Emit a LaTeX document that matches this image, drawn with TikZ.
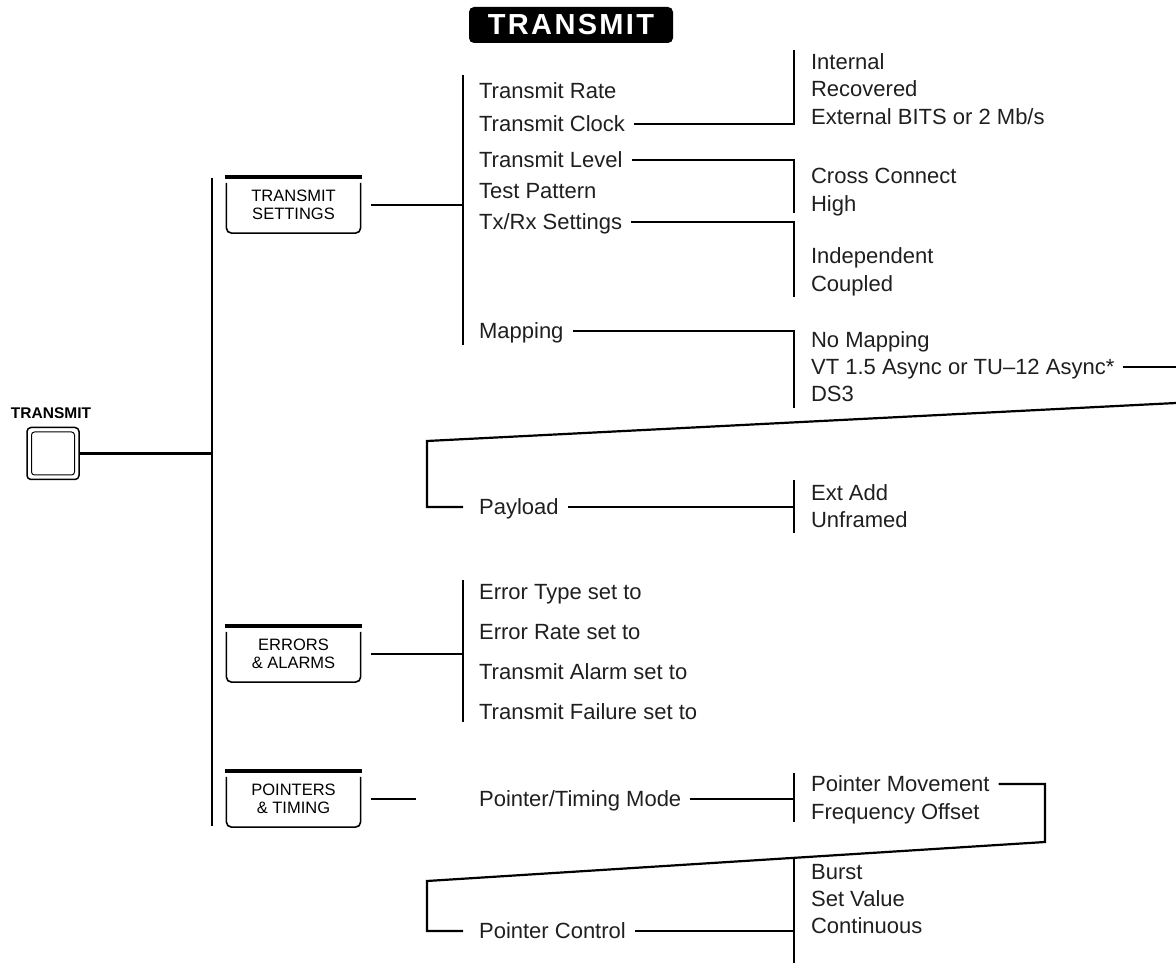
\documentclass[tikz,border=0pt]{standalone}
\usepackage{fontspec}
\setmainfont{Liberation Sans}
\newcommand\itemfont{\fontsize{22}{26}\selectfont}
\newcommand\boxfont{\fontsize{16.5}{18}\selectfont}
\newcommand\menubox[4]{%
  \node[boxlabel] (#1) at (#2,#3) {#4};
  \draw[line width=3.5pt] (#1.north west) -- (#1.north east);
  \draw[line width=1.6pt, rounded corners=5pt]
    ([xshift=1.5pt,yshift=-6pt]#1.north west) -- ([xshift=1.5pt]#1.south west)
    -- ([xshift=-1.5pt]#1.south east) -- ([xshift=-1.5pt,yshift=-6pt]#1.north east);
}
\begin{document}
\begin{tikzpicture}[x=1pt,y=-1pt, line width=2.2pt,
  item/.style={anchor=west, inner sep=0pt, font=\itemfont, text=black!88, text height=15.8pt, text depth=0pt},
  boxlabel/.style={align=center, font=\boxfont, inner sep=0pt, minimum width=135pt, minimum height=54pt},
  conn/.style={line width=2.2pt},
  bar/.style={line width=2.2pt}
]
\useasboundingbox (0,0) rectangle (1176,965);

% title
\node[fill=black, text=white, rounded corners=5pt, minimum width=204pt, minimum height=36pt,
      inner sep=0pt, font=\fontsize{29}{30}\selectfont\bfseries] (title) at (571,25)
      {\addfontfeatures{LetterSpace=8}TRANSMIT};

% button
\node[font=\fontsize{15.5}{16}\selectfont\bfseries, inner sep=0pt] (btnlabel) at (51,413) {TRANSMIT};
\node[draw, line width=1.5pt, rounded corners=4pt, minimum size=52pt, inner sep=0pt] (btn) at (53,453.5) {};
\node[draw, line width=1pt, rounded corners=3pt, minimum size=43pt, inner sep=0pt] (btninner) at (btn.center) {};

% main trunk
\coordinate (t0top) at (212,178);
\coordinate (t0bot) at (212,826);
\draw[bar] (t0top) -- (t0bot);
\draw[conn] (btn.east) -- (btn.east -| t0top);

% menu boxes
\menubox{ts}{293.5}{205}{TRANSMIT\\SETTINGS}
\menubox{ea}{293.5}{654}{ERRORS\\\& ALARMS}
\menubox{pt}{293.5}{799}{POINTERS\\\& TIMING}

% ---------- transmit settings ----------
\coordinate (t1top) at (463,75);
\coordinate (t1bot) at (463,345);
\draw[bar] (t1top) -- (t1bot);
\draw[conn] ([xshift=9pt]ts.east) -- (ts.east -| t1top);

\node[item] (rate) at (478,91) {Transmit Rate};
\node[item] (clock) at (478,124) {Transmit Clock};
\node[item] (level) at (478,160) {Transmit Level};
\node[item] (test) at (478,191) {Test Pattern};
\node[item] (txrx) at (478,222) {Tx/Rx Settings};
\node[item] (mapping) at (478,331) {Mapping};

% clock options
\coordinate (b1t) at (794,50);
\coordinate (b1b) at (794,124);
\draw[conn] ([xshift=8pt]clock.east) -- (b1b) -- (b1t);
\node[item] (internal) at (810,62) {Internal};
\node[item] (recovered) at (810,89) {Recovered};
\node[item] (external) at (810,117) {External BITS or 2 Mb/s};

% level options
\coordinate (b2t) at (794,160);
\coordinate (b2b) at (794,213);
\draw[conn] ([xshift=8pt]level.east) -- (b2t) -- (b2b);
\node[item] (cross) at (810,176) {Cross Connect};
\node[item] (high) at (810,204) {High};

% tx/rx options
\coordinate (b3t) at (794,222);
\coordinate (b3b) at (794,297);
\draw[conn] ([xshift=8pt]txrx.east) -- (b3t) -- (b3b);
\node[item] (indep) at (810,256) {Independent};
\node[item] (coupled) at (810,284) {Coupled};

% mapping options
\coordinate (b4t) at (794,331);
\coordinate (b4b) at (794,408);
\draw[conn] ([xshift=8pt]mapping.east) -- (b4t) -- (b4b);
\node[item] (nomap) at (810,340) {No Mapping};
\node[item] (vt) at (810,367) {VT 1.5 Async or TU–12 Async*};
\node[item] (ds3) at (810,394) {DS3};

% wrap to payload
\coordinate (vtend) at (1176,367);
\draw[conn] ([xshift=8pt]vt.east) -- (vtend);
\coordinate (sR) at (1176,403);
\coordinate (sL) at (427,441);
\node[item] (payload) at (478,507) {Payload};
\draw[conn] (sR) -- (sL) -- (sL |- payload.west) -- ([xshift=-15pt]payload.west);

\coordinate (b5t) at (794,480);
\coordinate (b5b) at (794,533);
\draw[conn] ([xshift=8pt]payload.east) -- (payload.east -| b5t);
\draw[bar] (b5t) -- (b5b);
\node[item] (extadd) at (810,493) {Ext Add};
\node[item] (unframed) at (810,520) {Unframed};

% ---------- errors & alarms ----------
\coordinate (t2top) at (463,580);
\coordinate (t2bot) at (463,722);
\draw[bar] (t2top) -- (t2bot);
\draw[conn] ([xshift=9pt]ea.east) -- (ea.east -| t2top);
\node[item] (etype) at (478,592) {Error Type set to};
\node[item] (erate) at (478,632) {Error Rate set to};
\node[item] (talarm) at (478,672) {Transmit Alarm set to};
\node[item] (tfail) at (478,712) {Transmit Failure set to};

% ---------- pointers & timing ----------
\node[item] (ptm) at (478,799) {Pointer/Timing Mode};
\coordinate (ptend) at (416,799);
\draw[conn] ([xshift=9pt]pt.east) -- (ptend);
\coordinate (b6t) at (794,773);
\coordinate (b6b) at (794,822);
\draw[conn] ([xshift=8pt]ptm.east) -- (ptm.east -| b6t);
\draw[bar] (b6t) -- (b6b);
\node[item] (pmove) at (810,784) {Pointer Movement};
\node[item] (foff) at (810,812) {Frequency Offset};

\coordinate (pR) at (1045,784);
\coordinate (pRb) at (1045,842);
\coordinate (pL) at (427,881);
\node[item] (pctl) at (478,931) {Pointer Control};
\draw[conn] ([xshift=8pt]pmove.east) -- (pR) -- (pRb) -- (pL) -- (pL |- pctl.west) -- ([xshift=-15pt]pctl.west);

\coordinate (b7t) at (794,857);
\coordinate (b7b) at (794,963);
\draw[conn] ([xshift=8pt]pctl.east) -- (pctl.east -| b7t);
\draw[bar] (b7t) -- (b7b);
\node[item] (burst) at (810,872) {Burst};
\node[item] (setval) at (810,899) {Set Value};
\node[item] (cont) at (810,926) {Continuous};
\end{tikzpicture}
\end{document}
